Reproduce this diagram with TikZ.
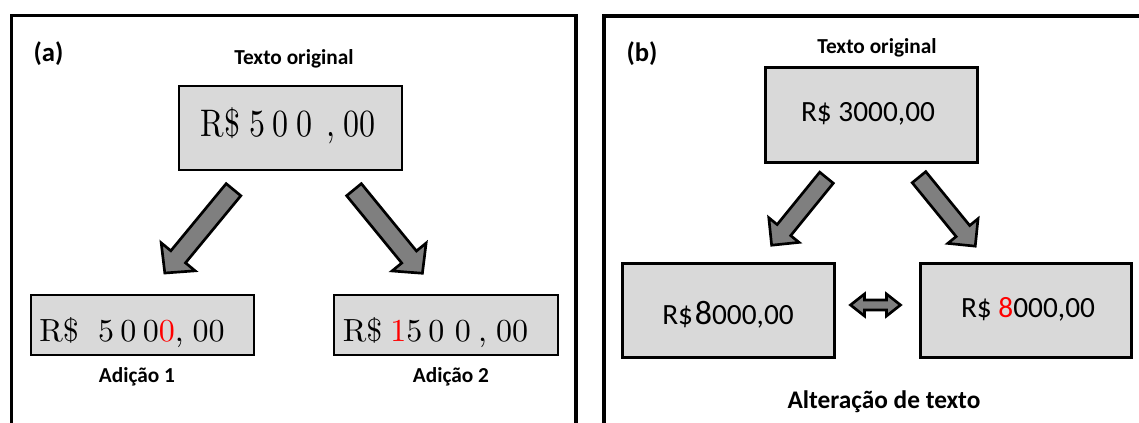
\documentclass[tikz,border=0pt]{standalone}
\usepackage{fontspec}
\newfontfamily\carlito{Carlito}
\newfontfamily\cmten{lmroman10-regular.otf}
\definecolor{boxgray}{HTML}{D9D9D9}
\definecolor{arrowgray}{HTML}{7F7F7F}
\definecolor{hired}{HTML}{FF0000}

\tikzset{
  panelframe/.style={line width=2.3pt, line join=miter},
  boxa/.style={draw=black, fill=boxgray, line width=1.5pt, inner sep=0pt},
  boxb/.style={draw=black, fill=boxgray, line width=2.1pt, inner sep=0pt},
  caption/.style={font=\carlito\bfseries\fontsize{16}{18}\selectfont, anchor=base, inner sep=0pt},
  panellabel/.style={font=\carlito\bfseries\fontsize{20}{22}\selectfont, anchor=base, inner sep=0pt},
  cmvalue/.style={font=\cmten\fontsize{24}{26}\selectfont, anchor=base, inner sep=0pt},
  sansvalue/.style={font=\carlito\fontsize{22}{24}\selectfont, anchor=base, inner sep=0pt},
  arrowline/.style={draw=black, fill=arrowgray, line width=2pt, line join=miter, miter limit=20},
  % block arrow along +x: length / shaft width / head width / head length
  pics/blockarrow/.style args={#1/#2/#3/#4}{code={
    \draw[arrowline] (0,-#2/2) -- ({#1-#4},-#2/2) -- ({#1-#4},-#3/2) -- (#1,0)
      -- ({#1-#4},#3/2) -- ({#1-#4},#2/2) -- (0,#2/2) -- cycle;
  }},
  % two-headed block arrow centred on the origin
  pics/doublearrow/.style args={#1/#2/#3/#4}{code={
    \draw[arrowline] (-#1/2,0) -- ({-#1/2+#4},-#3/2) -- ({-#1/2+#4},-#2/2)
      -- ({#1/2-#4},-#2/2) -- ({#1/2-#4},-#3/2) -- (#1/2,0)
      -- ({#1/2-#4},#3/2) -- ({#1/2-#4},#2/2) -- ({-#1/2+#4},#2/2)
      -- ({-#1/2+#4},#3/2) -- cycle;
  }},
}

\begin{document}
\begin{tikzpicture}[x=0.75pt,y=-0.75pt]
\useasboundingbox (0,0) rectangle (1139,423);
\clip (0,0) rectangle (1139,423);

% ---------- panel (a): additions ----------
\draw[panelframe] (11.5,440) -- (11.5,15.5) -- (576,15.5) -- (576,440);
\node[panellabel] (la) at (48.5,62) {(a)};
\node[caption] (origA) at (294,65) {Texto original};

\node[boxa, minimum width=223*0.75pt, minimum height=84*0.75pt] (boxA0) at (290.5,128) {};
\node[cmvalue] (valA0) at (288,136.5)
  {\scalebox{1}[1.2]{R\$\hspace{.3em}5\hspace{.22em}0\hspace{.25em}0\hspace{.42em},\hspace{.25em}00}};

\node[boxa, minimum width=223*0.75pt, minimum height=60*0.75pt] (boxA1) at (142.5,325) {};
\node[cmvalue] (valA1) at (132,341.5)
  {R\$\hspace{.6em}5\hspace{.2em}0\hspace{.2em}0{\color{hired}0},\hspace{.28em}00};
\node[caption] (capA1) at (137,383) {Adição 1};

\node[boxa, minimum width=224*0.75pt, minimum height=60*0.75pt] (boxA2) at (446,325) {};
\node[cmvalue] (valA2) at (435.5,341.5)
  {R\$\hspace{.25em}{\color{hired}1}5\hspace{.19em}0\hspace{.33em}0\hspace{.22em},\hspace{.29em}00};
\node[caption] (capA2) at (451,383) {Adição 2};

\pic[rotate=230.5] at (233.5,189.7) {blockarrow={108/19/44/21}};
\pic[rotate=-50.7] at (354,189.7) {blockarrow={108/19/44/21}};

% ---------- panel (b): text alteration ----------
\draw[panelframe] (604,440) -- (604,16) -- (1150,16);
\node[panellabel] (lb) at (642,62) {(b)};
\node[caption] (origB) at (877,54) {Texto original};

\node[boxb, minimum width=212*0.75pt, minimum height=95*0.75pt] (boxB0) at (871.5,115) {};
\node[sansvalue] (valB0) at (868,122) {R\$ 3000,00};

\node[boxb, minimum width=212*0.75pt, minimum height=94*0.75pt] (boxB1) at (728.5,310.5) {};
\node[sansvalue] (valB1) at (728,325) {R\$\hspace{.06em}{\fontsize{25.5}{26}\selectfont 8}000,00};

\node[boxb, minimum width=211*0.75pt, minimum height=94*0.75pt] (boxB2) at (1026,310.5) {};
\node[sansvalue] (valB2) at (1028,318) {R\$ {\color{hired}8}000,00};

\pic[rotate=230.9] at (826.5,177.7) {blockarrow={87/17.5/39/19.5}};
\pic[rotate=-50.8] at (919,177.2) {blockarrow={89/17.5/39/19.5}};
\pic at (875.5,305) {doublearrow={50/10/22/14}};

\node[caption, font=\carlito\bfseries\fontsize{19}{21}\selectfont] (capB) at (884,409) {Alteração de texto};
\end{tikzpicture}
\end{document}
